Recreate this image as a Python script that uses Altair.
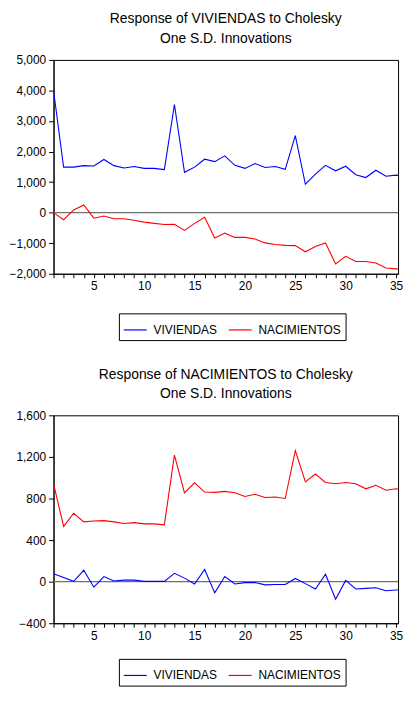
import altair as alt
import pandas as pd

steps = list(range(1, 37))

# Panel 1: Response of VIVIENDAS
viv_to_viv = [4000, 1490, 1490, 1540, 1530, 1740, 1540, 1460, 1510, 1450,
              1450, 1410, 3540, 1320, 1490, 1750, 1670, 1860, 1550, 1450,
              1610, 1480, 1510, 1420, 2520, 930, 1260, 1550, 1370, 1520,
              1240, 1150, 1390, 1190, 1230, 1190]
nac_to_viv = [0, -230, 90, 250, -180, -110, -200, -200, -250, -310,
              -350, -390, -380, -580, -350, -150, -830, -670, -810, -810,
              -860, -990, -1040, -1070, -1080, -1280, -1110, -990, -1680, -1430,
              -1600, -1600, -1650, -1810, -1840, -1890]

# Panel 2: Response of NACIMIENTOS
viv_to_nac = [77, 40, 3, 111, -53, 49, 6, 15, 15, 3,
              3, 3, 80, 34, -22, 117, -108, 49, -22, -9,
              -9, -31, -28, -28, 31, -19, -71, 71, -170, 12,
              -71, -65, -59, -87, -80, -80]
nac_to_nac = [942, 531, 658, 575, 584, 587, 575, 559, 568, 556,
              556, 547, 1217, 853, 951, 862, 859, 868, 856, 819,
              840, 809, 815, 800, 1260, 960, 1035, 954, 942, 954,
              942, 893, 927, 880, 893, 877]

series_names = ["VIVIENDAS", "NACIMIENTOS"]
series_colors = ["#0000FF", "#FF0000"]

titles1 = ["Response of VIVIENDAS to Cholesky", "One S.D. Innovations"]
titles2 = ["Response of NACIMIENTOS to Cholesky", "One S.D. Innovations"]

y_ticks1 = [-2000, -1000, 0, 1000, 2000, 3000, 4000, 5000]
y_ticks2 = [-400, 0, 400, 800, 1200, 1600]
x_visible_max = 35.2

FONT = "Liberation Sans"
W = 348


def make_df(a, b):
    rows = []
    for s, v in zip(steps, a):
        rows.append({"step": s, "series": series_names[0], "value": v})
    for s, v in zip(steps, b):
        rows.append({"step": s, "series": series_names[1], "value": v})
    return pd.DataFrame(rows)


def panel(df, title, yticks, h, leg_dy):
    x = alt.X("step:Q", scale=alt.Scale(domain=[1, x_visible_max], nice=False, zero=False),
              axis=alt.Axis(values=steps[:35], tickSize=4, labelPadding=3,
                            labelExpr="datum.value % 5 == 0 ? datum.label : ''",
                            title=None, grid=False, labelFlush=True))
    y = alt.Y("value:Q", scale=alt.Scale(domain=[yticks[0], yticks[-1]], nice=False, zero=False),
              axis=alt.Axis(values=yticks, format=",d", tickSize=5, labelPadding=3, title=None,
                            grid=False, labelOverlap=False))
    zero = alt.Chart(pd.DataFrame({"value": [0]})).mark_rule(color="#707070", strokeWidth=1.2).encode(
        y=y
    )
    lines = alt.Chart(df).mark_line(strokeWidth=1.1, clip=True).encode(
        x=x, y=y,
        color=alt.Color("series:N",
                        scale=alt.Scale(domain=series_names, range=series_colors),
                        sort=series_names,
                        legend=alt.Legend(orient="none", direction="horizontal", title=None,
                                          legendX=66, legendY=h + leg_dy)),
        order=alt.Order("step:Q"),
    )
    return alt.layer(zero, lines).properties(
        width=W, height=h,
        title=alt.TitleParams(text=title, fontSize=14, font=FONT, fontWeight="normal",
                              anchor="middle", lineHeight=20, offset=8, color="black"),
    )


p1 = panel(make_df(viv_to_viv, nac_to_viv), titles1, y_ticks1, 216, 40)
p2 = panel(make_df(viv_to_nac, nac_to_nac), titles2, y_ticks2, 210, 36)

chart = alt.vconcat(p1, p2, spacing=26, background="white",
                    padding={"left": 0, "top": 0, "right": 0, "bottom": 0}).resolve_scale(
    color="independent", x="independent", y="independent"
).resolve_legend(color="independent").configure_view(
    stroke="black", strokeWidth=1
).configure_axis(
    domainColor="black", tickColor="black", labelColor="black",
    labelFont=FONT, labelFontSize=12, domainWidth=1, tickWidth=1
).configure_legend(
    strokeColor="black", fillColor="white", padding=4, symbolType="stroke",
    symbolSize=540, symbolStrokeWidth=1.2, labelFont=FONT, labelFontSize=12,
    labelColor="black", columnPadding=8, labelOffset=6
)

chart.save("out.html", embed_options={"renderer": "svg", "actions": False})
